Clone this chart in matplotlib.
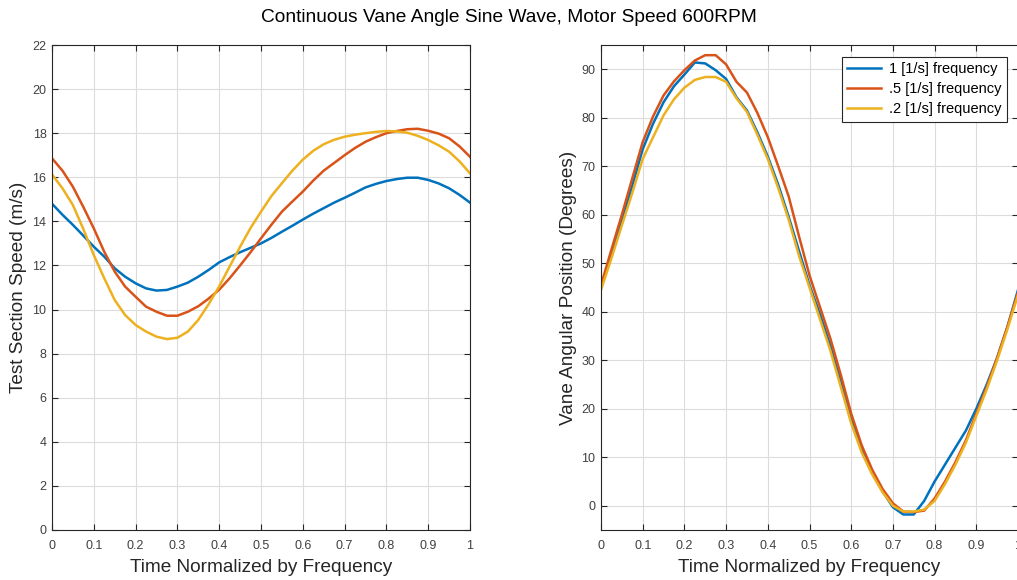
import numpy as np
import matplotlib
matplotlib.use("Agg")
import matplotlib.pyplot as plt

plt.rcParams['font.family'] = ['Liberation Sans', 'DejaVu Sans']

# couleurs MATLAB par defaut
c_blue = "#0072BD"
c_orange = "#D95319"
c_yellow = "#EDB120"

labels = ["1 [1/s] frequency", ".5 [1/s] frequency", ".2 [1/s] frequency"]

# vitesse dans la section d'essai (m/s)
t_speed = np.arange(0, 1.0001, 0.025)
speed_1 = [14.8, 14.3, 13.84, 13.35, 12.85, 12.4, 11.87, 11.49, 11.19, 10.96, 10.86,
           10.89, 11.04, 11.22, 11.49, 11.8, 12.14, 12.38, 12.6, 12.8, 13.0,
           13.25, 13.53, 13.8, 14.08, 14.35, 14.6, 14.85, 15.07, 15.3, 15.54,
           15.7, 15.83, 15.92, 15.98, 15.98, 15.88, 15.72, 15.5, 15.2, 14.85]
speed_05 = [16.86, 16.3, 15.57, 14.65, 13.68, 12.62, 11.72, 11.04, 10.58, 10.13, 9.9,
            9.72, 9.72, 9.9, 10.15, 10.5, 10.9, 11.42, 12.0, 12.6, 13.23,
            13.85, 14.44, 14.9, 15.35, 15.85, 16.3, 16.65, 17.0, 17.33, 17.61,
            17.82, 18.0, 18.1, 18.18, 18.2, 18.11, 17.98, 17.77, 17.4, 16.93]
speed_02 = [16.13, 15.5, 14.74, 13.65, 12.47, 11.42, 10.43, 9.75, 9.3, 9.0, 8.77,
            8.66, 8.72, 9.0, 9.53, 10.25, 11.05, 11.95, 12.85, 13.7, 14.44,
            15.15, 15.73, 16.3, 16.8, 17.2, 17.5, 17.7, 17.84, 17.93, 18.0,
            18.06, 18.1, 18.08, 18.02, 17.88, 17.69, 17.45, 17.16, 16.72, 16.18]

# position angulaire de l'aube (degres)
t_angle = np.arange(0, 1.0001, 0.025)
angle_1 = [45.0, 52.0, 58.8, 66.0, 73.5, 78.8, 83.2, 86.5, 88.9, 91.4, 91.2,
           89.8, 88.0, 84.2, 81.5, 77.0, 72.0, 66.2, 59.6, 52.5, 45.5,
           39.5, 33.0, 25.5, 18.0, 12.0, 7.0, 3.0, -0.3, -1.8, -1.8,
           1.0, 5.0, 8.5, 12.0, 15.5, 20.0, 25.0, 30.5, 37.0, 44.5]
angle_05 = [45.5, 52.8, 60.0, 67.5, 75.0, 80.3, 84.6, 87.5, 89.8, 91.8, 92.9,
            92.9, 91.0, 87.4, 85.2, 81.0, 76.0, 70.0, 63.8, 55.5, 47.5,
            41.0, 34.5, 27.0, 19.0, 12.5, 7.5, 3.5, 0.5, -1.2, -1.3,
            -1.0, 1.5, 5.0, 9.0, 13.5, 19.0, 24.5, 30.5, 37.0, 44.0]
angle_02 = [44.5, 51.0, 57.8, 64.5, 71.5, 76.0, 80.5, 83.8, 86.2, 87.8, 88.4,
            88.4, 87.4, 84.0, 81.2, 76.5, 71.5, 65.5, 59.0, 51.5, 45.0,
            38.5, 32.0, 24.5, 17.0, 11.0, 6.5, 2.8, 0.0, -1.2, -1.2,
            -0.8, 1.0, 4.5, 8.5, 13.0, 18.5, 24.0, 30.0, 36.5, 43.5]

x_ticks = np.arange(0, 1.0001, 0.1)
x_ticklabels = ["0", "0.1", "0.2", "0.3", "0.4", "0.5", "0.6", "0.7", "0.8", "0.9", "1"]

fig = plt.figure(figsize=(10.17, 5.8), dpi=100)
ax1 = fig.add_axes([52 / 1017, 50 / 580, 418 / 1017, 485 / 580])
ax2 = fig.add_axes([601 / 1017, 50 / 580, 417 / 1017, 485 / 580])


def style_axes(ax):
    ax.grid(True, color="#dcdcdc", linewidth=0.8)
    ax.set_axisbelow(True)
    for s in ax.spines.values():
        s.set_color("#262626")
        s.set_linewidth(0.8)
    ax.tick_params(direction="in", top=True, right=True, length=4, width=0.8,
                   colors="#262626", labelcolor="#404040", labelsize=9)
    ax.tick_params(axis="x", pad=7)
    ax.tick_params(axis="y", pad=4)
    ax.set_xticks(x_ticks)
    ax.set_xticklabels(x_ticklabels)
    ax.set_xlim(0, 1)
    ax.set_xlabel("Time Normalized by Frequency", fontsize=13.7, color="#262626", labelpad=5)


lw = 1.8
ax1.plot(t_speed, speed_1, color=c_blue, lw=lw)
ax1.plot(t_speed, speed_05, color=c_orange, lw=lw)
ax1.plot(t_speed, speed_02, color=c_yellow, lw=lw)
style_axes(ax1)
ax1.set_ylim(0, 22)
ax1.set_yticks(np.arange(0, 22.1, 2))
ax1.set_ylabel("Test Section Speed (m/s)", fontsize=13.7, color="#262626", labelpad=4)

ax2.plot(t_angle, angle_1, color=c_blue, lw=lw, label=labels[0])
ax2.plot(t_angle, angle_05, color=c_orange, lw=lw, label=labels[1])
ax2.plot(t_angle, angle_02, color=c_yellow, lw=lw, label=labels[2])
style_axes(ax2)
ax2.set_ylim(-5, 95)
ax2.set_yticks(np.arange(0, 91, 10))
ax2.set_ylabel("Vane Angular Position (Degrees)", fontsize=13.7, color="#262626", labelpad=3)
leg = ax2.legend(loc="upper right", bbox_to_anchor=(0.9736, 0.975), borderaxespad=0,
                 fontsize=10.5, fancybox=False, framealpha=1, edgecolor="#262626",
                 handlelength=2.3, borderpad=0.35, labelspacing=0.42, handletextpad=0.6)
leg.get_frame().set_linewidth(0.8)

fig.text(0.5, 1 - 18 / 580, "Continuous Vane Angle Sine Wave, Motor Speed 600RPM",
         ha="center", va="center", fontsize=13.8, color="black")

fig.savefig("out.png", dpi=100)
